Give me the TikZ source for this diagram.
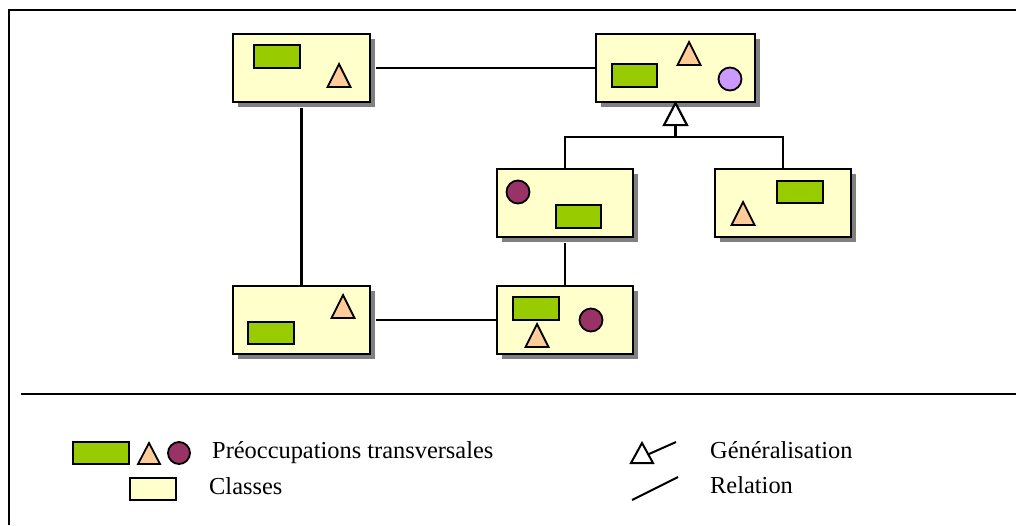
\documentclass[tikz,border=0pt]{standalone}
\usepackage{fontspec}
\setmainfont{Liberation Serif}
\usetikzlibrary{calc}
\definecolor{classfill}{HTML}{FFFFCC}
\definecolor{concgreen}{HTML}{99CC00}
\definecolor{concpeach}{HTML}{FFCC99}
\definecolor{concplum}{HTML}{993366}
\definecolor{conclilac}{HTML}{CC99FF}
\definecolor{shadowgray}{HTML}{808080}
\tikzset{
  classbox/.style={draw=black, line width=2.2pt, fill=classfill, rectangle,
    inner sep=0pt, minimum height=68pt},
  wire/.style={draw=black, line width=2.2pt},
  concern/.style={draw=black, line width=1.8pt},
  legendtext/.style={anchor=base west, inner sep=0pt, font=\fontsize{24.4}{27}\selectfont},
}
% cross-cutting concern glyphs, positioned by their corners / centre / apex
\newcommand\greenrect[2]{\path[concern, fill=concgreen] (#1) rectangle (#2);}
\newcommand\peachtri[1]{\path[concern, fill=concpeach] (#1) -- ++(-11.5,23) -- ++(23,0) -- cycle;}
\newcommand\plumdot[1]{\path[concern, fill=concplum] (#1) circle (11.5);}
\newcommand\lilacdot[1]{\path[concern, fill=conclilac] (#1) circle (11.5);}
\newcommand\classat[3]{%
  \fill[shadowgray] ($(#2)+(5,5)+(-#3/2,-34)$) rectangle ($(#2)+(5,5)+(#3/2,34)$);
  \node[classbox, minimum width=#3pt] (#1) at (#2) {};}
\begin{document}
\begin{tikzpicture}[x=1pt, y=-1pt]
\useasboundingbox (0,0) rectangle (1016,525);

% outer frame and separator
\draw[wire] (9,525) -- (9,10) -- (1016,10);
\draw[wire] (21,394) -- (1016,394);

% class positions
\coordinate (Apos) at (301.5,68);
\coordinate (Bpos) at (675.5,68);
\coordinate (Cpos) at (565,203);
\coordinate (Dpos) at (783,203);
\coordinate (Epos) at (565,320);
\coordinate (Fpos) at (301.5,320);

% classes
\classat{A}{Apos}{137}
\classat{B}{Bpos}{159}
\classat{C}{Cpos}{136}
\classat{D}{Dpos}{136}
\classat{E}{Epos}{136}
\classat{F}{Fpos}{137}

% relations
\draw[wire] ($(A.east)+(5,0)$) -- (B.west);
\draw[wire] ($(A.south)+(0,5)$) -- (F.north);
\draw[wire] ($(F.east)+(5,0)$) -- (E.west);
\draw[wire] ($(C.south)+(0,5)$) -- (E.north);

% generalisation C, D -> B
\coordinate (junction) at ($(B.south)+(0,34)$);
\draw[wire] (C.north) -- (C.north |- junction) -- (D.north |- junction) -- (D.north);
\draw[wire] (junction) -- ++(0,-12);
\draw[wire, fill=white, line join=miter] (B.south) -- ++(-11.5,22) -- ++(23,0) -- cycle;

% concerns inside class A
\greenrect{254,45}{300,68}
\peachtri{339,64}
% class B
\greenrect{612,64}{657,87}
\peachtri{689,42}
\lilacdot{730,79}
% class C
\plumdot{518,192}
\greenrect{556,205}{601,228}
% class D
\greenrect{777,181}{823,203}
\peachtri{743,202}
% class E
\greenrect{513,297}{559,320}
\peachtri{537,324}
\plumdot{591,320}
% class F
\peachtri{343,295}
\greenrect{248,322}{294,344}

% legend
\greenrect{73,442}{129,464}
\path[concern, fill=concpeach] (149,443) -- (138,464) -- (160,464) -- cycle;
\path[concern, fill=concplum] (179,453) circle (11);
\node[legendtext] (lgconcern) at (212,458) {Préoccupations transversales};
\draw[line width=1.8pt, fill=classfill] (130,478) rectangle (176,500);
\node[legendtext] (lgclass) at (209,494) {Classes};

\draw[line width=2pt, fill=white, line join=miter] (642,443) -- (631,463) -- (653,463) -- cycle;
\draw[line width=2pt] (649,454) -- (676,442);
\node[legendtext] (lggen) at (710,458) {Généralisation};
\draw[line width=2pt] (632,500) -- (678,477);
\node[legendtext] (lgrel) at (710,493) {Relation};
\end{tikzpicture}
\end{document}
